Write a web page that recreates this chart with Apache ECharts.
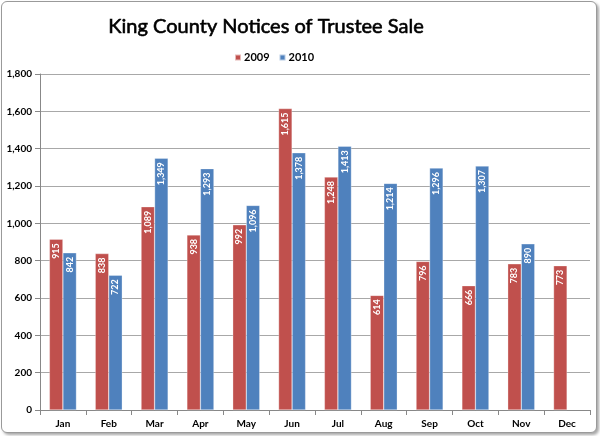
<!DOCTYPE html>
<html><head><meta charset="utf-8">
<script src="https://cdn.jsdelivr.net/npm/echarts@6/dist/echarts.min.js"></script>
<style>
html,body{margin:0;padding:0;background:#fff;}
#wrap{position:absolute;left:1px;top:1px;width:594px;height:430px;border:1px solid #9a9a9a;border-radius:6px;box-shadow:2px 2px 3px rgba(0,0,0,0.35);overflow:hidden;background:#fff;}
#chart{position:absolute;left:-2px;top:-2px;width:600px;height:436px;}
</style></head>
<body><div id="wrap"><div id="chart"></div></div>
<script>
const categories = ['Jan','Feb','Mar','Apr','May','Jun','Jul','Aug','Sep','Oct','Nov','Dec'];
const values2009 = [915, 838, 1089, 938, 992, 1615, 1248, 614, 796, 666, 783, 773];
const values2010 = [842, 722, 1349, 1293, 1096, 1378, 1413, 1214, 1296, 1307, 890, null];
const seriesNames = ['2009', '2010'];

const chart = echarts.init(document.getElementById('chart'));
const fmt = v => v.toLocaleString('en-US');
const labelCfg = {
  show: true, position: 'insideTop', rotate: 90, align: 'right', verticalAlign: 'middle',
  distance: 4, color: '#fff', fontSize: 9, fontWeight: 'bold', fontFamily: 'Lato, "Open Sans", sans-serif',
  formatter: p => fmt(p.value)
};
chart.setOption({
  animation: false,
  title: { text: 'King County Notices of Trustee Sale', left: 261, textAlign: 'center', top: 12,
    textStyle: { fontFamily: 'Lato, "Open Sans", sans-serif', fontSize: 20, fontWeight: 'normal', color: '#000',
      textBorderColor: '#000', textBorderWidth: 0.6 } },
  legend: { top: 47, left: 229, itemWidth: 6, itemHeight: 6, itemGap: 9, icon: 'rect',
    textStyle: { fontFamily: 'Lato, "Open Sans", sans-serif', fontSize: 11, fontWeight: 'bold', color: '#000', padding: [0,0,0,-2] } },
  grid: { left: 40, right: 10, top: 74, bottom: 26 },
  xAxis: { type: 'category', data: categories,
    axisLine: { lineStyle: { color: '#888' } },
    axisTick: { show: true, alignWithLabel: false, length: 5, lineStyle: { color: '#888' } },
    axisLabel: { color: '#000', fontSize: 10, fontWeight: 'bold', margin: 9, fontFamily: 'Lato, "Open Sans", sans-serif' } },
  yAxis: { type: 'value', min: 0, max: 1800, interval: 200,
    axisLine: { show: true, lineStyle: { color: '#888' } },
    axisTick: { show: true, length: 5, lineStyle: { color: '#888' } },
    splitLine: { lineStyle: { color: '#a8a8a8' } },
    axisLabel: { color: '#000', fontSize: 10, fontWeight: 'bold', margin: 8, fontFamily: 'Lato, "Open Sans", sans-serif', formatter: v => fmt(v) } },
  series: [
    { name: seriesNames[0], type: 'bar', data: values2009, barGap: '0%', barCategoryGap: '41%',
      itemStyle: { color: '#C0504D', borderColor: 'rgba(255,255,255,0.6)', borderWidth: 0.5 }, label: labelCfg },
    { name: seriesNames[1], type: 'bar', data: values2010,
      itemStyle: { color: '#4F81BD', borderColor: 'rgba(255,255,255,0.6)', borderWidth: 0.5 }, label: labelCfg }
  ]
});
</script></body></html>
